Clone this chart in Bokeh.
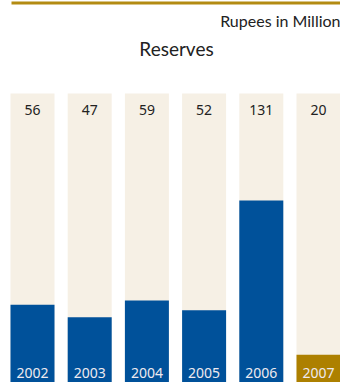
from bokeh.plotting import figure
from bokeh.models import ColumnDataSource, Label, BoxAnnotation, Range1d
from bokeh.core.properties import value
from bokeh.embed import file_html
from bokeh.resources import INLINE

years = ["2002", "2003", "2004", "2005", "2006", "2007"]
reserves = [56, 47, 59, 52, 131, 20]
colors = ["#00519A", "#00519A", "#00519A", "#00519A", "#00519A", "#AD8000"]

W, H = 340, 382
SCALE = 1.39          # pixels per value unit
BG_TOP = 208          # height of the pale background column, in value units
PITCH = 57.2          # pixels between bar centres
FIRST = 32            # pixel centre of the first bar

xs = list(range(len(years)))
src = ColumnDataSource(dict(
    x=xs, top=reserves, color=colors, year=years,
    label=[str(v) for v in reserves],
    bgtop=[BG_TOP] * len(years),
    ly=[BG_TOP - 12] * len(years),
    yy=[0] * len(years),
))

p = figure(width=W, height=H, output_backend="svg", toolbar_location=None,
           x_range=Range1d(-FIRST / PITCH, (W - FIRST) / PITCH),
           y_range=Range1d(0, H / SCALE),
           min_border=0, outline_line_color=None)
p.axis.visible = False
p.grid.visible = False
p.background_fill_color = "white"
p.border_fill_color = "white"

bw = 44 / PITCH
p.vbar(x="x", top="bgtop", bottom=0, width=bw, source=src,
       fill_color="#F6F0E5", line_color=None)
p.vbar(x="x", top="top", bottom=0, width=bw, source=src,
       fill_color="color", line_color=None)

p.text(x="x", y="ly", text="label", source=src, text_align="center",
       text_baseline="middle", text_font=value("Noto Sans"),
       text_font_size="14px", text_color="#222222")
p.text(x="x", y="yy", text="year", source=src, text_align="center",
       text_baseline="middle", y_offset=-10, text_font=value("Noto Sans"),
       text_font_size="14px", text_color="#EEEAF0")

# gold rule at the top
p.add_layout(BoxAnnotation(left=11, right=W, top=H - 1, bottom=H - 4,
                           left_units="screen", right_units="screen",
                           top_units="screen", bottom_units="screen",
                           fill_color="#B38B12", fill_alpha=1, line_color=None))
p.add_layout(Label(x=340, y=H - 20, x_units="screen", y_units="screen",
                   text="Rupees in Million", text_align="right",
                   text_baseline="middle", text_font="Lato",
                   text_font_size="16px", text_color="#222222"))
p.add_layout(Label(x=176, y=H - 48, x_units="screen", y_units="screen",
                   text="Reserves", text_align="center",
                   text_baseline="middle", text_font="Lato",
                   text_font_size="19px", text_color="#222222"))

open("out.html", "w").write(file_html(p, INLINE))
